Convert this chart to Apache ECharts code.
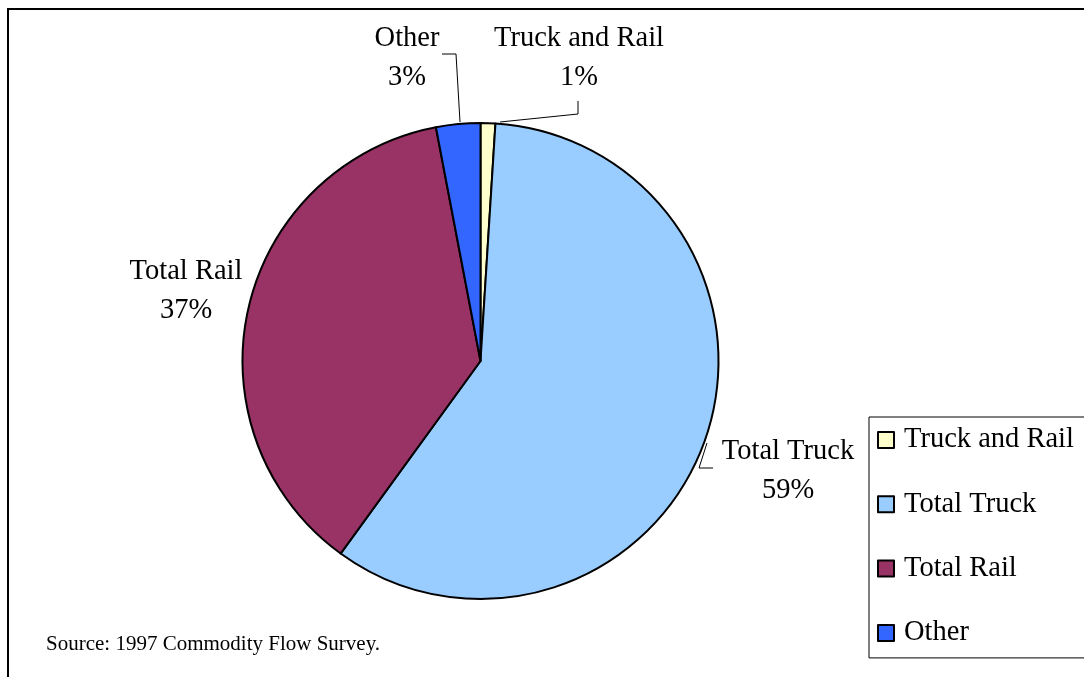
<!DOCTYPE html>
<html>
<head>
<meta charset="utf-8">
<title>Freight Mode Shares</title>
<script src="https://cdn.jsdelivr.net/npm/echarts@6/dist/echarts.min.js"></script>
<style>
  html, body { margin: 0; padding: 0; background: #ffffff; }
  #chart { width: 1084px; height: 677px; }
</style>
</head>
<body>
<div id="chart"></div>
<script>
// Mode shares (percent), clockwise from 12 o'clock
const categories = ['Truck and Rail', 'Total Truck', 'Total Rail', 'Other'];
const shares = [1, 59, 37, 3];
const sliceColors = ['#FFFFCC', '#99CCFF', '#993366', '#3366FF'];
const sourceNote = 'Source: 1997 Commodity Flow Survey.';

const FONT = '"Liberation Serif", "Times New Roman", serif';

// Where each slice label sits and how its leader line runs
const labelPlacement = {
  'Truck and Rail': { x: 579, y: 58, line: [[500, 122], [578, 114], [578, 101]] },
  'Total Truck':    { x: 788, y: 471, line: [[707, 443], [699, 468], [713, 468]] },
  'Total Rail':     { x: 186, y: 291, line: null },
  'Other':          { x: 407, y: 58, line: [[460, 122], [456, 54], [442, 54]] }
};

const chart = echarts.init(document.getElementById('chart'), null, { renderer: 'canvas' });

const pieData = categories.map((name, i) => ({
  name: name,
  value: shares[i],
  itemStyle: { color: sliceColors[i] },
  labelLine: { show: !!labelPlacement[name].line }
}));

chart.setOption({
  animation: false,
  backgroundColor: '#ffffff',
  legend: {
    orient: 'vertical',
    left: 869,
    top: 417,
    padding: [8, 40, 10, 8],
    borderColor: '#000000',
    borderWidth: 1,
    icon: 'rect',
    itemWidth: 16,
    itemHeight: 16,
    itemGap: 34.3,
    itemStyle: { borderColor: '#000000', borderWidth: 2 },
    textStyle: {
      fontFamily: FONT,
      fontSize: 28.5,
      color: '#000000',
      lineHeight: 30,
      padding: [0, 0, 0, 5]
    },
    data: categories
  },
  graphic: [
    {
      type: 'rect',
      silent: true,
      shape: { x: 8, y: 9, width: 1200, height: 1000 },
      style: { fill: 'none', stroke: '#000000', lineWidth: 2 }
    },
    {
      type: 'text',
      silent: true,
      left: 46,
      top: 634,
      style: {
        text: sourceNote,
        font: '21px ' + FONT,
        fill: '#000000'
      }
    }
  ],
  series: [{
    type: 'pie',
    center: [480.5, 361],
    radius: 238,
    startAngle: 90,
    clockwise: true,
    avoidLabelOverlap: false,
    itemStyle: { borderColor: '#000000', borderWidth: 2 },
    emphasis: { disabled: true },
    label: {
      show: true,
      position: 'outside',
      fontFamily: FONT,
      fontSize: 28.5,
      lineHeight: 39,
      color: '#000000',
      align: 'center',
      formatter: p => p.name + '\n' + Math.round(p.percent) + '%'
    },
    labelLine: {
      show: true,
      lineStyle: { color: '#000000', width: 1 }
    },
    labelLayout: function (params) {
      const place = labelPlacement[categories[params.dataIndex]];
      const out = { x: place.x, y: place.y, align: 'center', verticalAlign: 'middle' };
      if (place.line) out.labelLinePoints = place.line;
      return out;
    },
    data: pieData
  }]
});
</script>
</body>
</html>
